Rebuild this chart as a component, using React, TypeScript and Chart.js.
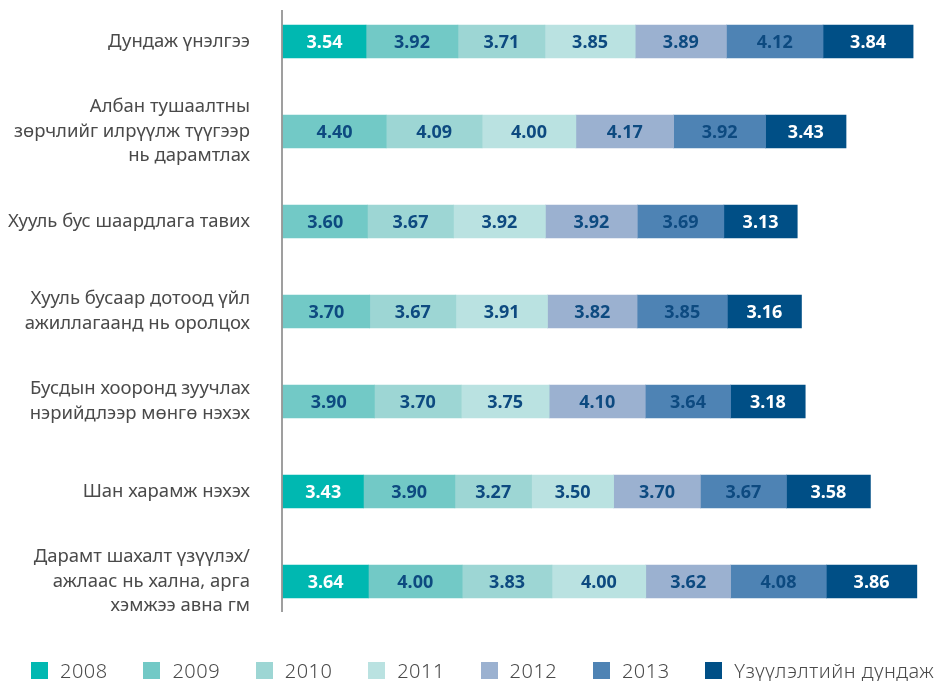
import React, { useEffect, useRef } from "react";
import { Chart, registerables } from "chart.js";

Chart.register(...registerables);

const categories: string[][] = [
  ["Дундаж үнэлгээ"],
  ["Албан тушаалтны", "зөрчлийг илрүүлж түүгээр", "нь дарамтлах"],
  ["Хууль бус шаардлага тавих"],
  ["Хууль бусаар дотоод үйл", "ажиллагаанд нь оролцох"],
  ["Бусдын хооронд зуучлах", "нэрийдлээр мөнгө нэхэх"],
  ["Шан харамж нэхэх"],
  ["Дарамт шахалт үзүүлэх/", "ажлаас нь хална, арга", "хэмжээ авна гм"],
];

const seriesNames = ["2008", "2009", "2010", "2011", "2012", "2013", "Үзүүлэлтийн дундаж"];

const s2008 = [3.54, null, null, null, null, 3.43, 3.64];
const s2009 = [3.92, 4.4, 3.6, 3.7, 3.9, 3.9, 4.0];
const s2010 = [3.71, 4.09, 3.67, 3.67, 3.7, 3.27, 3.83];
const s2011 = [3.85, 4.0, 3.92, 3.91, 3.75, 3.5, 4.0];
const s2012 = [3.89, 4.17, 3.92, 3.82, 4.1, 3.7, 3.62];
const s2013 = [4.12, 3.92, 3.69, 3.85, 3.64, 3.67, 4.08];
const sAvg = [3.84, 3.43, 3.13, 3.16, 3.18, 3.58, 3.86];

const seriesValues = [s2008, s2009, s2010, s2011, s2012, s2013, sAvg];

const colors = ["#00B8B1", "#72C9C6", "#9DD6D4", "#BAE2E1", "#9BB1D0", "#4E83B4", "#004F86"];
const labelColors = ["#FFFFFF", "#0D4A80", "#0D4A80", "#0D4A80", "#0D4A80", "#0D4A80", "#FFFFFF"];

const X_MAX = 28.06;
const FONT = "'Noto Sans', 'Open Sans', sans-serif";

const valueLabels = {
  id: "valueLabels",
  afterDatasetsDraw(chart: any) {
    const ctx = chart.ctx;
    ctx.save();
    ctx.font = `bold 18px ${FONT}`;
    ctx.textAlign = "center";
    ctx.textBaseline = "middle";
    chart.data.datasets.forEach((ds: any, di: number) => {
      const meta = chart.getDatasetMeta(di);
      meta.data.forEach((el: any, i: number) => {
        const v = ds.data[i];
        if (v === null || v === undefined) return;
        const p = el.getProps(["x", "y", "base"], true);
        ctx.fillStyle = labelColors[di];
        ctx.fillText(Number(v).toFixed(2), (p.x + p.base) / 2, p.y + 1);
      });
    });
    ctx.restore();
  },
};

const axisLine = {
  id: "axisLine",
  afterDraw(chart: any) {
    const { ctx, chartArea } = chart;
    const n = chart.data.labels.length;
    const band = (chartArea.bottom - chartArea.top) / (n - 1);
    ctx.save();
    ctx.strokeStyle = "#7F7F7F";
    ctx.lineWidth = 1.5;
    ctx.beginPath();
    ctx.moveTo(chartArea.left - 1, chartArea.top - band * 0.35);
    ctx.lineTo(chartArea.left - 1, chartArea.bottom + band * 0.34);
    ctx.stroke();
    ctx.restore();
  },
};

export default function App() {
  const canvasRef = useRef<HTMLCanvasElement | null>(null);

  useEffect(() => {
    document.body.style.margin = "0";
    const canvas = canvasRef.current;
    if (!canvas) return;
    const chart = new Chart(canvas, {
      type: "bar",
      data: {
        labels: categories,
        datasets: seriesNames.map((name, i) => ({
          label: name,
          data: seriesValues[i],
          backgroundColor: colors[i],
          borderWidth: 0,
          barThickness: 33,
          clip: false,
        })),
      },
      options: {
        indexAxis: "y",
        responsive: true,
        maintainAspectRatio: false,
        animation: false,
        events: [],
        layout: { padding: { top: 41.5, bottom: 99.5, left: 0, right: 0 } },
        scales: {
          x: {
            stacked: true,
            display: false,
            min: 0,
            max: X_MAX,
          },
          y: {
            stacked: true,
            offset: false,
            grid: { display: false, drawTicks: true, tickLength: 33 },
            border: { display: false },
            ticks: {
              autoSkip: false,
              padding: 0,
              color: "#4A4A4A",
              font: { family: FONT, size: 18.5, lineHeight: 1.33 },
            },
            afterFit: (scale: any) => {
              scale.width = 283;
            },
          },
        },
        plugins: {
          legend: { display: false },
          tooltip: { enabled: false },
        },
      } as any,
      plugins: [valueLabels, axisLine],
    });
    return () => chart.destroy();
  }, []);

  return (
    <div style={{ position: "relative", width: 941, height: 681 }}>
      <canvas ref={canvasRef} />
      <div
        style={{
          position: "absolute",
          left: 31,
          top: 657,
          height: 27,
          display: "flex",
          alignItems: "center",
          fontFamily: FONT,
          fontSize: 20,
          fontWeight: 300,
          color: "#4A4A4A",
          whiteSpace: "nowrap",
        }}
      >
        {seriesNames.map((name, i) => (
          <div
            key={name}
            style={{
              display: "flex",
              alignItems: "center",
              width: i < seriesNames.length - 1 ? 112.4 : undefined,
            }}
          >
            <span
              style={{
                display: "inline-block",
                width: 17,
                height: 17,
                background: colors[i],
                marginRight: 12,
              }}
            />
            <span style={{ letterSpacing: 0.5 }}>{name}</span>
          </div>
        ))}
      </div>
    </div>
  );
}
